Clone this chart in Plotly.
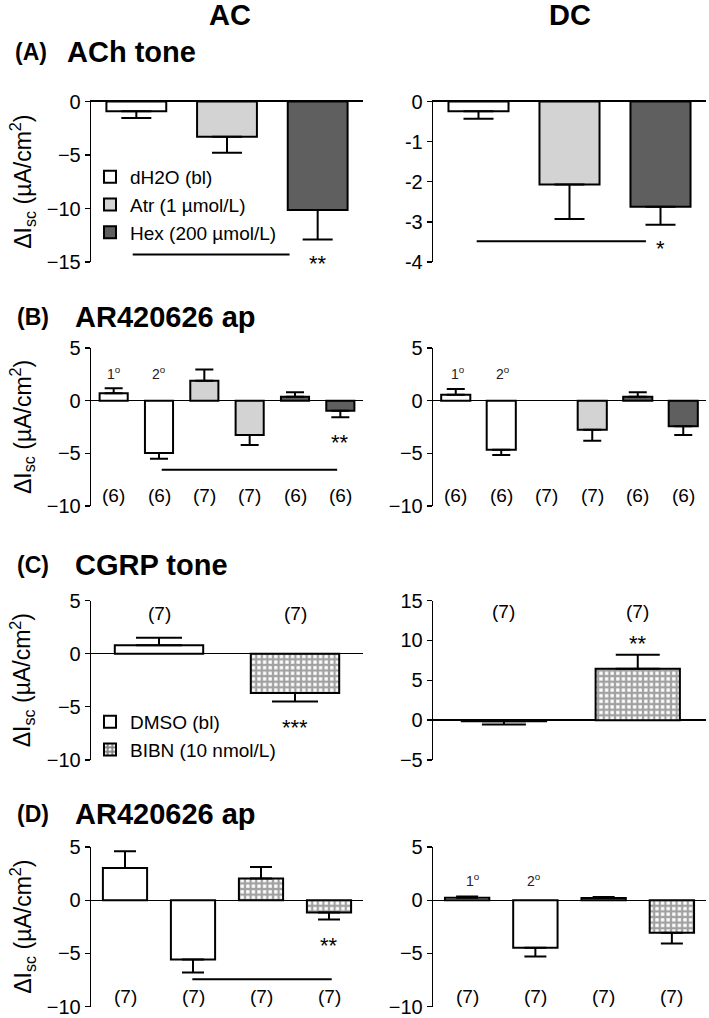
import plotly.graph_objects as go

FONT = "Liberation Sans, Arial, sans-serif"
W, H = 709, 1018
WHITE, LIGHT, DARK = "#ffffff", "#d3d3d3", "#5f5f5f"

# ---------------- data ----------------
# Panel A: ACh tone
A_labels = ["dH2O (bl)", "Atr (1 µmol/L)", "Hex (200 µmol/L)"]
A_colors = [WHITE, LIGHT, DARK]
A_AC_mean = [-0.9, -3.3, -10.15]
A_AC_sem = [0.65, 1.5, 2.75]
A_DC_mean = [-0.24, -2.07, -2.62]
A_DC_sem = [0.19, 0.86, 0.45]
A_n = ["(6)", "(7)", "(6)"]

# Panel B: AR420626 ap (ACh series)
B_colors = [WHITE, WHITE, LIGHT, LIGHT, DARK, DARK]
B_AC_mean = [0.7, -4.97, 1.9, -3.26, 0.38, -0.95]
B_AC_sem = [0.47, 0.55, 1.05, 0.95, 0.41, 0.63]
B_DC_mean = [0.57, -4.65, None, -2.75, 0.38, -2.44]
B_DC_sem = [0.53, 0.5, None, 1.05, 0.41, 0.82]
B_n = ["(6)", "(6)", "(7)", "(7)", "(6)", "(6)"]

# Panel C: CGRP tone
C_labels = ["DMSO (bl)", "BIBN (10 nmol/L)"]
C_patterns = ["", "+"]
C_AC_mean = [0.8, -3.7]
C_AC_sem = [0.7, 0.8]
C_DC_mean = [-0.15, 6.45]
C_DC_sem = [0.4, 1.75]
C_n = ["(7)", "(7)"]

# Panel D: AR420626 ap (CGRP series)
D_patterns = ["", "", "+", "+"]
D_AC_mean = [3.03, -5.57, 2.03, -1.16]
D_AC_sem = [1.57, 1.23, 1.09, 0.66]
D_DC_mean = [0.22, -4.47, 0.2, -3.07]
D_DC_sem = [0.12, 0.83, 0.1, 1.0]
D_n = ["(7)", "(7)", "(7)", "(7)"]

# significance bars: (x start, x end), y ; stars (x, y, text)
A_AC_sig = ([-0.04, 1.69], -14.3)
A_DC_sig = ([-0.02, 1.84], -3.48)
B_AC_sig = ([1.06, 4.93], -6.55)
D_AC_sig = ([0.99, 3.04], -7.44)
stars = {
    1: (2, -14.65, "**"),
    2: (2, -3.55, "*"),
    3: (5, -3.5, "**"),
    5: (1, -6.5, "***"),
    6: (1, 10.2, "**"),
    7: (3, -3.8, "**"),
}

# ---------------- layout geometry ----------------
AC_dom = [91 / W, 363 / W]
DC_dom = [433 / W, 706 / W]
def ydom(top, bot):
    return [1 - bot / H, 1 - top / H]
row_dom = [ydom(101.5, 262), ydom(348, 506), ydom(600.5, 760), ydom(847, 1006.5)]

fig = go.Figure()


def onesided(means, sems):
    plus, minus = [], []
    for m, s in zip(means, sems):
        if m is None:
            plus.append(None); minus.append(None)
        elif m >= 0:
            plus.append(s); minus.append(0)
        else:
            plus.append(0); minus.append(s)
    return plus, minus


def sfx(idx):
    return "" if idx == 1 else str(idx)


def bars(idx, xs, means, sems, colors, patterns, width, capw, name=None, legend=None):
    plus, minus = onesided(means, sems)
    for shape in sorted(set(patterns)):
        sel = [i for i in range(len(xs)) if patterns[i] == shape]
        marker = dict(color=[colors[i] for i in sel],
                      line=dict(color="black", width=2))
        if shape:
            marker["pattern"] = dict(shape=shape, fgcolor="black", bgcolor="white",
                                     size=5.6, solidity=0.65)
        fig.add_trace(go.Bar(
            x=[xs[i] for i in sel], y=[means[i] for i in sel], width=width,
            marker=marker,
            error_y=dict(type="data", symmetric=False,
                         array=[plus[i] for i in sel],
                         arrayminus=[minus[i] for i in sel],
                         color="black", thickness=2, width=capw),
            name=name, showlegend=name is not None, legend=legend,
            xaxis="x" + sfx(idx), yaxis="y" + sfx(idx),
        ))


def sigline(idx, sig):
    xs, yv = sig
    fig.add_trace(go.Scatter(x=xs, y=[yv, yv], mode="lines",
                             line=dict(color="black", width=2),
                             showlegend=False, xaxis="x" + sfx(idx), yaxis="y" + sfx(idx),
                             hoverinfo="skip"))


# Panel A (one trace per treatment for the legend)
for i in range(3):
    bars(1, [i], [A_AC_mean[i]], [A_AC_sem[i]], [A_colors[i]], [""], 0.66, 15,
         name=A_labels[i], legend="legend")
bars(2, [0, 1, 2], A_DC_mean, A_DC_sem, A_colors, ["", "", ""], 0.66, 15)
# Panel B
bars(3, list(range(6)), B_AC_mean, B_AC_sem, B_colors, [""] * 6, 0.62, 9)
bars(4, list(range(6)), B_DC_mean, B_DC_sem, B_colors, [""] * 6, 0.64, 9)
# Panel C
for i in range(2):
    bars(5, [i], [C_AC_mean[i]], [C_AC_sem[i]], [WHITE], [C_patterns[i]], 0.65, 23,
         name=C_labels[i], legend="legend2")
bars(6, [0, 1], C_DC_mean, C_DC_sem, [WHITE, WHITE], C_patterns, 0.63, 22)
# Panel D
bars(7, list(range(4)), D_AC_mean, D_AC_sem, [WHITE] * 4, D_patterns, 0.65, 11)
bars(8, list(range(4)), D_DC_mean, D_DC_sem, [WHITE] * 4, D_patterns, 0.65, 11)

sigline(1, A_AC_sig)
sigline(2, A_DC_sig)
sigline(3, B_AC_sig)
sigline(7, D_AC_sig)

# ---------------- axes ----------------
panels = {
    1: dict(xd=AC_dom, yd=row_dom[0], n=3, yr=[-15, 0], tv=[0, -5, -10, -15], tt=None),
    2: dict(xd=DC_dom, yd=row_dom[0], n=3, yr=[-4, 0], tv=[0, -1, -2, -3, -4],
            tt=["0", "-1", "-2", "-3", "-4"]),
    3: dict(xd=AC_dom, yd=row_dom[1], n=6, yr=[-10, 5], tv=[5, 0, -5, -10], tt=None),
    4: dict(xd=DC_dom, yd=row_dom[1], n=6, yr=[-10, 5], tv=[5, 0, -5, -10], tt=None),
    5: dict(xd=AC_dom, yd=row_dom[2], n=2, yr=[-10, 5], tv=[5, 0, -5, -10], tt=None),
    6: dict(xd=DC_dom, yd=row_dom[2], n=2, yr=[-5, 15], tv=[15, 10, 5, 0, -5], tt=None,
            xr=[-0.53, 1.51]),
    7: dict(xd=AC_dom, yd=row_dom[3], n=4, yr=[-10, 5], tv=[5, 0, -5, -10], tt=None),
    8: dict(xd=DC_dom, yd=row_dom[3], n=4, yr=[-10, 5], tv=[5, 0, -5, -10], tt=None),
}
axes = {}
for idx, p in panels.items():
    s = sfx(idx)
    xr = p.get("xr", [-0.5, p["n"] - 0.5])
    top_line = idx in (1, 2)
    axes["xaxis" + s] = dict(domain=p["xd"], range=xr, anchor="y" + s,
                             showline=top_line, side="top", linecolor="black",
                             linewidth=1.3, showticklabels=False, ticks="",
                             showgrid=False, zeroline=False, fixedrange=True,
                             automargin=False)
    yd = dict(domain=p["yd"], range=p["yr"], anchor="x" + s, showline=True,
              linecolor="black", linewidth=1.3, ticks="outside", ticklen=5,
              tickwidth=1.3, tickcolor="black", tickvals=p["tv"], showgrid=False,
              zeroline=not top_line, zerolinecolor="black", zerolinewidth=1.3,
              tickfont=dict(size=20, color="black", family=FONT), fixedrange=True,
              automargin=False, ticklabeloverflow="allow")
    if p["tt"]:
        yd["ticktext"] = p["tt"]
    axes["yaxis" + s] = yd

# ---------------- annotations ----------------
ann = []
def ref(idx):
    return "x" + sfx(idx), "y" + sfx(idx)

def counts(idx, labels, yv):
    xr, yr = ref(idx)
    for i, t in enumerate(labels):
        ann.append(dict(x=i, y=yv, xref=xr, yref=yr, text=t, showarrow=False,
                        font=dict(size=19, color="black", family=FONT)))

counts(1, A_n, 1.7)
counts(2, A_n, 0.45)
counts(3, B_n, -9.0)
counts(4, B_n, -9.0)
counts(5, C_n, 3.8)
counts(6, C_n, 13.6)
counts(7, D_n, -9.1)
counts(8, D_n, -9.1)

def ordinal(idx, xs, yv):
    xr, yr = ref(idx)
    for x, t in zip(xs, ["1<sup>o</sup>", "2<sup>o</sup>"]):
        ann.append(dict(x=x, y=yv, xref=xr, yref=yr, text=t, showarrow=False,
                        font=dict(size=14, color="#222", family=FONT)))

ordinal(3, [0, 1], 2.6)
ordinal(4, [0.04, 1.03], 2.6)
ordinal(7, [0.02, 0.97], 5.5)
ordinal(8, [0.09, 0.98], 1.9)

for idx, (x, yv, t) in stars.items():
    xr, yr = ref(idx)
    ann.append(dict(x=x, y=yv, xref=xr, yref=yr, text=t, showarrow=False, yshift=-5,
                    font=dict(size=22, color="black", family=FONT)))

# column titles
for x, t in [(230, "AC"), (570, "DC")]:
    ann.append(dict(x=x / W, y=1 - 15 / H, xref="paper", yref="paper", text="<b>%s</b>" % t,
                    showarrow=False, xanchor="center", yanchor="middle",
                    font=dict(size=29, color="black", family=FONT)))
# panel letters and titles
for (ly, lx, tx, letter, title) in [(52, 13, 65, "(A)", "ACh tone"),
                                    (317, 15, 73, "(B)", "AR420626 ap"),
                                    (565, 15, 73, "(C)", "CGRP tone"),
                                    (814, 15, 73, "(D)", "AR420626 ap")]:
    ann.append(dict(x=lx / W, y=1 - ly / H, xref="paper", yref="paper",
                    text="<b>%s</b>" % letter, showarrow=False, xanchor="left",
                    yanchor="middle", font=dict(size=23, color="black", family=FONT)))
    ann.append(dict(x=tx / W, y=1 - ly / H, xref="paper", yref="paper",
                    text="<b>%s</b>" % title, showarrow=False, xanchor="left",
                    yanchor="middle", font=dict(size=29, color="black", family=FONT)))
# y-axis titles (left column)
for d in row_dom:
    ann.append(dict(x=22 / W, y=(d[0] + d[1]) / 2, xref="paper", yref="paper",
                    text="ΔI<sub>sc</sub> (µA/cm<sup>2</sup>)", textangle=-90,
                    showarrow=False, xanchor="center", yanchor="middle",
                    font=dict(size=23, color="black", family=FONT)))

fig.update_layout(
    width=W, height=H, margin=dict(l=0, r=0, t=0, b=0, autoexpand=False),
    paper_bgcolor="white", plot_bgcolor="white",
    barmode="overlay", showlegend=True,
    font=dict(family=FONT, color="black"),
    annotations=ann,
    legend=dict(x=90 / W, y=1 - 158 / H, xanchor="left", yanchor="top",
                bgcolor="rgba(0,0,0,0)", font=dict(size=19, color="black", family=FONT),
                tracegroupgap=0, traceorder="normal"),
    legend2=dict(x=90 / W, y=1 - 703 / H, xanchor="left", yanchor="top",
                 bgcolor="rgba(0,0,0,0)", font=dict(size=19, color="black", family=FONT),
                 tracegroupgap=0, traceorder="normal"),
    **axes,
)

fig.write_html("out.html", config={"displayModeBar": False, "staticPlot": True},
               post_script="document.body.style.margin='0';document.body.style.overflow='hidden';")
